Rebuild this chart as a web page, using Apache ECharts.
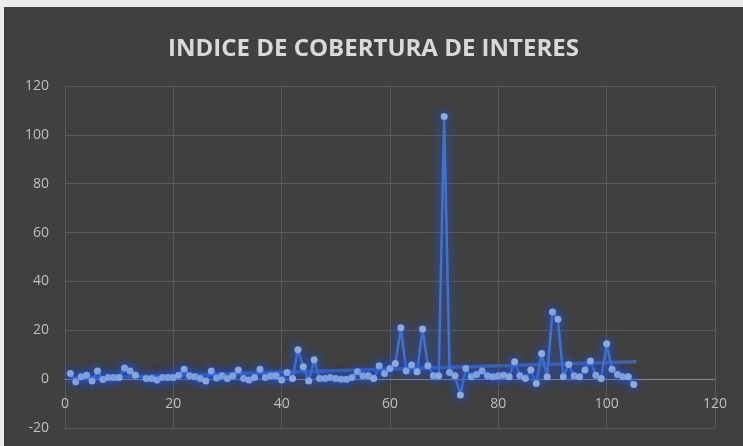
<!DOCTYPE html>
<html>
<head>
<meta charset="utf-8">
<title>Indice de cobertura de interes</title>
<script src="https://cdn.jsdelivr.net/npm/echarts@6/dist/echarts.min.js"></script>
<style>
  html, body { margin: 0; padding: 0; background: #ececec; }
  #chart { position: absolute; left: 4px; top: 7px; width: 739px; height: 439px; background: #404040; }
</style>
</head>
<body>
<div id="chart"></div>
<script>
// x positions 1..105 (no value at 14)
const xValues = [
  1, 2, 3, 4, 5, 6, 7, 8, 9, 10, 11, 12, 13, 15, 16, 17, 18, 19, 20, 21,
  22, 23, 24, 25, 26, 27, 28, 29, 30, 31, 32, 33, 34, 35, 36, 37, 38, 39, 40, 41,
  42, 43, 44, 45, 46, 47, 48, 49, 50, 51, 52, 53, 54, 55, 56, 57, 58, 59, 60, 61,
  62, 63, 64, 65, 66, 67, 68, 69, 70, 71, 72, 73, 74, 75, 76, 77, 78, 79, 80, 81,
  82, 83, 84, 85, 86, 87, 88, 89, 90, 91, 92, 93, 94, 95, 96, 97, 98, 99, 100, 101,
  102, 103, 104, 105
];
const coverage = [
  2.3, -1.1, 1, 1.6, -0.8, 3.3, -0.1, 0.7, 0.7, 0.7, 4.6, 3.3, 1.6, 0.3, 0.3, -0.4, 0.7, 0.7, 0.7, 1.6,
  4.1, 1.4, 1, 0.3, -0.8, 3.3, 0.5, 1.4, 0.3, 1.4, 3.7, 0.3, -0.4, 0.7, 4.1, 0.7, 1.4, 1.4, -0.4, 2.7,
  0.3, 12, 5.1, -0.8, 7.9, 0.3, 0.3, 0.7, 0.3, 0, 0, 0.7, 3, 1.4, 1.4, 0.3, 5.5, 2.3, 4.4, 6.4,
  21, 3.3, 5.8, 3, 20.5, 5.5, 1.4, 1.4, 107.5, 2.7, 1.4, -6.5, 4.4, 1, 1.9, 3.3, 1.4, 1, 1.4, 1.6,
  1, 7.1, 1.4, 0.3, 3.7, -1.8, 10.5, 1, 27.5, 24.5, 1, 6, 1.4, 1, 3.7, 7.4, 1.6, 0.3, 14.5, 4.1,
  1.9, 1, 1, -2.2
];
// trend line end points
const trendX = [1, 105.5];
const trendY = [0.3, 7.1];

const xTicks = { min: 0, max: 120, step: 20 };
const yTicks = { min: -20, max: 120, step: 20 };

const gridBox = { left: 61, right: 28, top: 79, bottom: 18 };
const chartHeight = 439;
// move the x axis (line + labels) up to y = 0
const plotHeight = chartHeight - gridBox.top - gridBox.bottom;
const zeroOffset = plotHeight * (0 - yTicks.min) / (yTicks.max - yTicks.min);

const chart = echarts.init(document.getElementById('chart'));

const labelStyle = { color: '#bfbfbf', fontSize: 14, fontFamily: 'Open Sans' };

chart.setOption({
  backgroundColor: '#404040',
  title: {
    text: 'INDICE DE COBERTURA DE INTERES',
    left: 'center',
    top: 25,
    textStyle: { color: '#d9d9d9', fontSize: 24, fontWeight: 'bold', fontFamily: 'Open Sans' }
  },
  grid: { ...gridBox, outerBoundsMode: 'none', containLabel: false },
  xAxis: {
    type: 'value',
    min: xTicks.min,
    max: xTicks.max,
    interval: xTicks.step,
    offset: -zeroOffset,
    axisLine: { show: true, onZero: false, lineStyle: { color: '#8c8c8c', width: 1 } },
    axisTick: { show: false },
    axisLabel: { ...labelStyle, margin: 18 },
    splitLine: { show: true, lineStyle: { color: '#5b5b5b', width: 1 } }
  },
  yAxis: {
    type: 'value',
    min: yTicks.min,
    max: yTicks.max,
    interval: yTicks.step,
    axisLine: { show: false },
    axisTick: { show: false },
    axisLabel: { ...labelStyle, margin: 16 },
    splitLine: { show: true, lineStyle: { color: '#5b5b5b', width: 1 } }
  },
  series: [
    {
      name: 'Tendencia',
      type: 'line',
      data: trendX.map((x, i) => [x, trendY[i]]),
      symbol: 'none',
      silent: true,
      z: 1,
      lineStyle: { color: '#4a6cae', width: 3.5, opacity: 0.85 }
    },
    {
      name: 'Indice',
      type: 'line',
      data: xValues.map((x, i) => [x, coverage[i]]),
      symbol: 'circle',
      symbolSize: 7,
      showSymbol: true,
      z: 2,
      lineStyle: {
        color: '#4472c4',
        width: 2.5,
        shadowColor: 'rgba(30, 90, 255, 0.95)',
        shadowBlur: 12
      },
      itemStyle: {
        color: '#8eaadb',
        borderWidth: 0,
        shadowColor: 'rgba(30, 90, 255, 0.95)',
        shadowBlur: 10
      }
    }
  ],
  animation: false
});
</script>
</body>
</html>
